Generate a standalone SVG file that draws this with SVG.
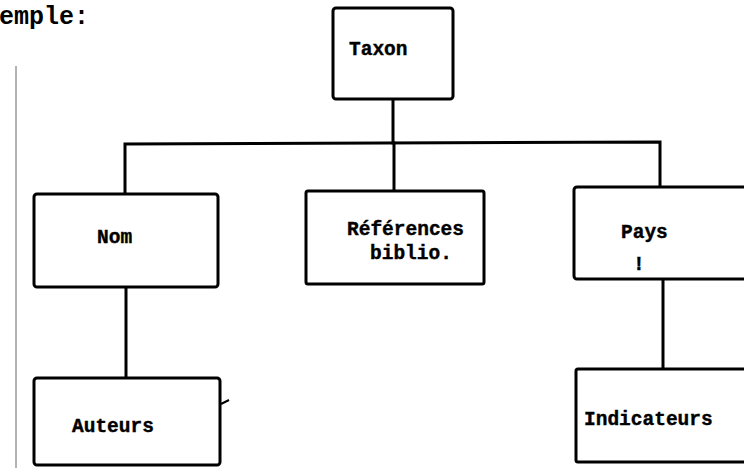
<svg xmlns="http://www.w3.org/2000/svg" width="744" height="468" viewBox="0 0 744 468">
  <style>
    .box { fill: #fff; stroke: #000; stroke-width: 3; }
    .wire { fill: none; stroke: #000; stroke-width: 3; stroke-linecap: square; }
    .lbl { font-family: "Liberation Mono", "DejaVu Sans Mono", monospace; font-weight: bold; font-size: 19.5px; fill: #000; stroke: #000; stroke-width: 0.4; }
    .head { font-family: "Liberation Mono", "DejaVu Sans Mono", monospace; font-weight: bold; font-size: 25px; fill: #000; }
  </style>
  <rect width="744" height="468" fill="#fff"/>

  <!-- heading fragment and margin rule -->
  <text class="head" x="-1" y="24">emple:</text>
  <line x1="16" y1="66" x2="16" y2="468" stroke="#666" stroke-width="1"/>

  <!-- connectors -->
  <g id="connectors">
    <path class="wire" d="M393 99 V143"/>
    <path class="wire" d="M125 193 V144 L660 142 V186"/>
    <path class="wire" d="M394 143 V191"/>
    <path class="wire" d="M126 287 V378"/>
    <path class="wire" d="M663 279 V369"/>
    <path d="M221 404 L229 400" stroke="#000" stroke-width="2" fill="none"/>
  </g>

  <g id="taxon">
    <rect class="box" x="333" y="8" width="120" height="91" rx="3"/>
    <text class="lbl" x="349" y="55">Taxon</text>
  </g>

  <g id="nom">
    <rect class="box" x="34" y="194" width="184" height="93" rx="3"/>
    <text class="lbl" x="97" y="243">Nom</text>
  </g>

  <g id="references">
    <rect class="box" x="306" y="191" width="178" height="93" rx="2"/>
    <text class="lbl" x="347" y="235">Références</text>
    <text class="lbl" x="370" y="259">biblio.</text>
  </g>

  <g id="pays">
    <rect class="box" x="574" y="187" width="190" height="92" rx="3"/>
    <text class="lbl" x="621" y="238">Pays</text>
    <text class="lbl" x="633" y="270">!</text>
  </g>

  <g id="auteurs">
    <rect class="box" x="34" y="378" width="186" height="87" rx="3"/>
    <text class="lbl" x="72" y="432">Auteurs</text>
  </g>

  <g id="indicateurs">
    <rect class="box" x="576" y="369" width="190" height="93" rx="2"/>
    <text class="lbl" x="584" y="425">Indicateurs</text>
  </g>
</svg>
